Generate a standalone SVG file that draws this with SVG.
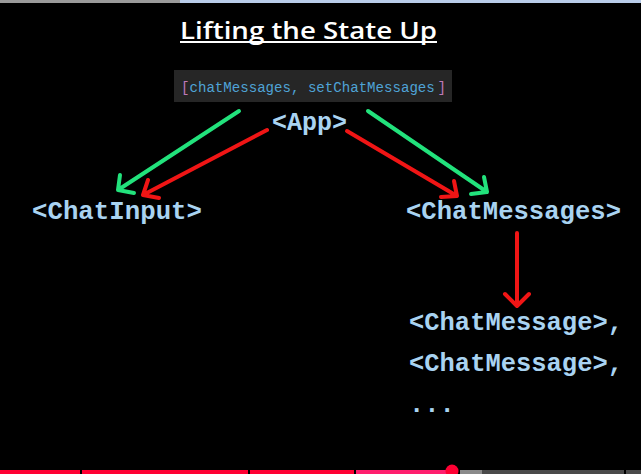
<svg xmlns="http://www.w3.org/2000/svg" width="641" height="474" viewBox="0 0 641 474">
  <style>
    .node { font-family: "Liberation Mono", "DejaVu Sans Mono", monospace; font-weight: bold; font-size: 25.5px; fill: #a9d3f1; }
    .title { font-family: "Open Sans", "Liberation Sans", sans-serif; font-weight: 600; font-size: 24px; fill: #ffffff; }
    .code { font-family: "Liberation Mono", "DejaVu Sans Mono", monospace; font-size: 14.1px; fill: #4fa3d6; }
    .brk { fill: #c079b8; }
    .green { stroke: #22e27c; stroke-width: 4; fill: none; stroke-linecap: round; stroke-linejoin: round; }
    .red { stroke: #f01515; stroke-width: 4; fill: none; stroke-linecap: round; stroke-linejoin: round; }
  </style>
  <rect x="0" y="0" width="641" height="474" fill="#000000"/>
  <rect x="0" y="0" width="180" height="3" fill="#9a9a9a"/>
  <rect x="180" y="0" width="461" height="3" fill="#b9cdea"/>

  <g id="title">
    <text class="title" x="180" y="39" textLength="257" lengthAdjust="spacingAndGlyphs">Lifting the State Up</text>
    <rect x="180" y="41" width="257" height="2" fill="#ffffff"/>
  </g>

  <g id="state">
    <rect x="174" y="70" width="278" height="32" fill="#262626"/>
    <text class="code brk" x="181" y="92">[</text>
    <text class="code" x="189.5" y="92">chatMessages, setChatMessages</text>
    <text class="code brk" x="437.5" y="92">]</text>
  </g>

  <g id="app">
    <text class="node" x="272" y="130" textLength="75" lengthAdjust="spacingAndGlyphs">&lt;App&gt;</text>
  </g>
  <g id="chatinput">
    <text class="node" x="32" y="219" textLength="170" lengthAdjust="spacingAndGlyphs">&lt;ChatInput&gt;</text>
  </g>
  <g id="chatmessages">
    <text class="node" x="406" y="219" textLength="215" lengthAdjust="spacingAndGlyphs">&lt;ChatMessages&gt;</text>
  </g>
  <g id="chatmessage-list">
    <text class="node" x="409" y="330" textLength="214" lengthAdjust="spacingAndGlyphs">&lt;ChatMessage&gt;,</text>
    <text class="node" x="409" y="371" textLength="214" lengthAdjust="spacingAndGlyphs">&lt;ChatMessage&gt;,</text>
    <text class="node" x="409" y="412">...</text>
  </g>

  <g id="connectors">
    <path class="green" d="M239 111 L118 190 M120 175 L118 190 L134 193"/>
    <path class="red" d="M267 130 L143 195 M148 180 L143 195 L159 198"/>
    <path class="green" d="M368 111 L487 192 M484 177 L487 192 L471 194"/>
    <path class="red" d="M347 131 L457 196 M454 181 L457 196 L441 197"/>
    <path class="red" d="M517 233 L517 306 M505 294 L517 306 L529 294"/>
  </g>

  <g id="progress">
    <rect x="0" y="470" width="80" height="4" fill="#ff0033"/>
    <rect x="82" y="470" width="166" height="4" fill="#ff0033"/>
    <rect x="250" y="470" width="104" height="4" fill="#ff0033"/>
    <rect x="356" y="470" width="94" height="4" fill="#ff1e6e"/>
    <rect x="460" y="470" width="22" height="4" fill="#8a8a8a"/>
    <rect x="482" y="470" width="142" height="4" fill="#4a4a4a"/>
    <rect x="626" y="470" width="15" height="4" fill="#4a4a4a"/>
    <circle cx="452" cy="471" r="6.5" fill="#ff0033"/>
  </g>
</svg>
